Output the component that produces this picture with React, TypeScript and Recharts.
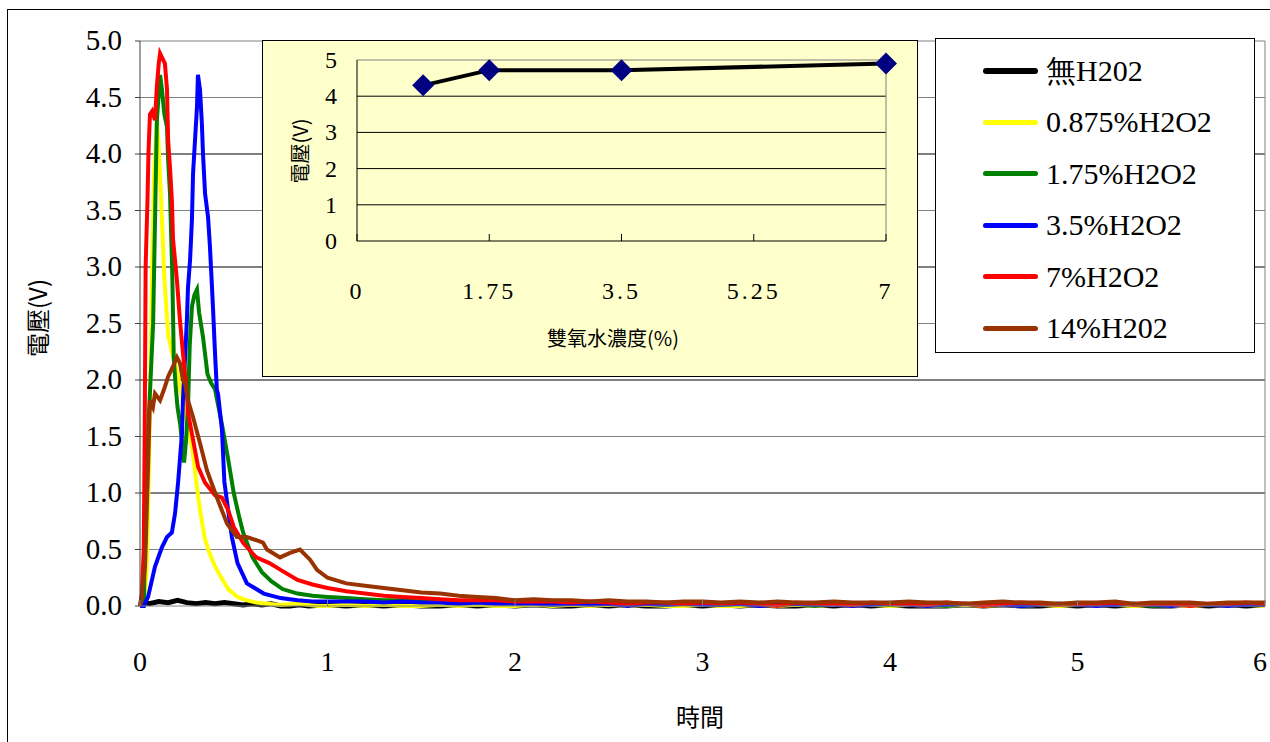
import React from "react";
import { LineChart, Line, XAxis, YAxis, ReferenceLine } from "recharts";

// time axis (s) and voltage (V)
const X_TICKS = [0, 1, 2, 3, 4, 5, 6];
const Y_TICKS = [0, 0.5, 1, 1.5, 2, 2.5, 3, 3.5, 4, 4.5, 5];
const HALF_GRID = [0.5, 1.5, 2.5, 3.5, 4.5, 5];
const FULL_GRID = [1, 2, 3, 4];

const TAIL_T = [
  1.0, 1.1, 1.2, 1.3, 1.4, 1.5, 1.6, 1.7, 1.8, 1.9,
  2.0, 2.1, 2.2, 2.3, 2.4, 2.5, 2.6, 2.7, 2.8, 2.9,
  3.0, 3.1, 3.2, 3.3, 3.4, 3.5, 3.6, 3.7, 3.8, 3.9,
  4.0, 4.1, 4.2, 4.3, 4.4, 4.5, 4.6, 4.7, 4.8, 4.9,
  5.0, 5.1, 5.2, 5.3, 5.4, 5.5, 5.6, 5.7, 5.8, 5.9, 6.0,
];

const NONE_T = [0, 0.02, 0.05, 0.1, 0.15, 0.2, 0.25, 0.3, 0.35, 0.4, 0.45, 0.5, 0.55, 0.6, 0.65, 0.7, 0.75, 0.8, 0.85, 0.9];
const NONE_V = [0.01, 0.03, 0.02, 0.04, 0.03, 0.05, 0.03, 0.02, 0.03, 0.02, 0.03, 0.02, 0.01, 0.02, 0.01, 0.02, 0.0, 0.0, 0.01, 0.0];
const NONE_TAIL = [
  0.01, 0.0, 0.01, 0.0, 0.01, 0.0, 0.0, 0.01, 0.0, 0.01,
  0.0, 0.01, 0.0, 0.0, 0.01, 0.0, 0.01, 0.0, 0.0, 0.01,
  0.0, 0.01, 0.0, 0.01, 0.0, 0.0, 0.01, 0.0, 0.01, 0.0,
  0.01, 0.0, 0.0, 0.0, 0.01, 0.0, 0.01, 0.0, 0.0, 0.01,
  0.0, 0.01, 0.0, 0.01, 0.0, 0.0, 0.01, 0.0, 0.01, 0.0, 0.01,
];

const P0875_T = [0, 0.02, 0.035, 0.045, 0.055, 0.065, 0.075, 0.09, 0.1, 0.115, 0.13, 0.15, 0.17, 0.2, 0.23, 0.26, 0.28, 0.3, 0.32, 0.345, 0.37, 0.4, 0.43, 0.47, 0.52, 0.57, 0.62, 0.68, 0.75, 0.85, 0.95];
const P0875_V = [0, 0.02, 0.3, 1.0, 2.0, 3.0, 3.8, 4.3, 4.05, 3.5, 2.9, 2.4, 2.25, 2.05, 1.8, 1.55, 1.38, 1.1, 0.85, 0.6, 0.47, 0.35, 0.26, 0.15, 0.08, 0.05, 0.03, 0.02, 0.01, 0.02, 0.0];
const P0875_TAIL = [
  0.0, 0.01, 0.0, 0.01, 0.0, 0.0, 0.01, 0.0, 0.01, 0.0,
  0.0, 0.01, 0.0, 0.01, 0.0, 0.01, 0.0, 0.01, 0.0, 0.0,
  0.01, 0.0, 0.0, 0.01, 0.0, 0.01, 0.0, 0.01, 0.0, 0.01,
  0.0, 0.01, 0.0, 0.0, 0.01, 0.0, 0.01, 0.0, 0.01, 0.0,
  0.01, 0.0, 0.01, 0.0, 0.01, 0.0, 0.0, 0.01, 0.0, 0.01, 0.0,
];

const P175_T = [0, 0.02, 0.03, 0.045, 0.07, 0.08, 0.09, 0.107, 0.117, 0.13, 0.144, 0.15, 0.16, 0.165, 0.172, 0.177, 0.18, 0.19, 0.2, 0.215, 0.235, 0.245, 0.256, 0.265, 0.277, 0.29, 0.304, 0.315, 0.336, 0.36, 0.38, 0.4, 0.42, 0.44, 0.47, 0.5, 0.53, 0.55, 0.6, 0.65, 0.7, 0.76, 0.84, 0.92];
const P175_V = [0, 0.0, 0.8, 1.6, 2.5, 3.4, 4.3, 4.7, 4.57, 4.35, 4.24, 3.95, 3.65, 3.35, 2.95, 2.5, 2.2, 1.95, 1.76, 1.6, 1.27, 1.45, 1.76, 2.3, 2.65, 2.75, 2.8, 2.6, 2.38, 2.05, 1.97, 1.92, 1.75, 1.58, 1.3, 1.0, 0.78, 0.65, 0.43, 0.3, 0.22, 0.15, 0.11, 0.09];
const P175_TAIL = [
  0.08, 0.07, 0.06, 0.05, 0.05, 0.04, 0.04, 0.04, 0.03, 0.04,
  0.03, 0.03, 0.02, 0.03, 0.02, 0.03, 0.02, 0.02, 0.01, 0.02,
  0.02, 0.01, 0.02, 0.02, 0.01, 0.02, 0.0, 0.02, 0.01, 0.02,
  0.01, 0.02, 0.01, 0.0, 0.02, 0.01, 0.02, 0.0, 0.01, 0.02,
  0.01, 0.02, 0.01, 0.02, 0.0, 0.01, 0.02, 0.01, 0.02, 0.01, 0.01,
];

const P35_T = [0, 0.02, 0.043, 0.08, 0.117, 0.144, 0.17, 0.187, 0.203, 0.224, 0.229, 0.25, 0.256, 0.267, 0.277, 0.283, 0.304, 0.309, 0.32, 0.33, 0.336, 0.347, 0.363, 0.373, 0.384, 0.389, 0.4, 0.41, 0.416, 0.437, 0.45, 0.47, 0.49, 0.52, 0.57, 0.66, 0.75, 0.84, 0.92];
const P35_V = [0, 0.0, 0.08, 0.35, 0.52, 0.61, 0.65, 0.82, 1.09, 1.53, 1.82, 2.53, 2.82, 3.06, 3.42, 3.83, 4.42, 4.7, 4.57, 4.27, 4.0, 3.65, 3.44, 3.18, 2.82, 2.65, 2.24, 1.91, 1.88, 1.56, 1.1, 0.85, 0.61, 0.38, 0.2, 0.11, 0.07, 0.05, 0.04];
const P35_TAIL = [
  0.04, 0.04, 0.04, 0.03, 0.04, 0.03, 0.03, 0.02, 0.03, 0.02,
  0.02, 0.02, 0.01, 0.02, 0.01, 0.02, 0.0, 0.02, 0.01, 0.02,
  0.01, 0.01, 0.02, 0.0, 0.01, 0.02, 0.01, 0.01, 0.0, 0.01,
  0.02, 0.01, 0.0, 0.01, 0.02, 0.01, 0.01, 0.0, 0.01, 0.02,
  0.01, 0.0, 0.01, 0.02, 0.01, 0.0, 0.01, 0.01, 0.0, 0.01, 0.01,
];

const P7_T = [0, 0.01, 0.02, 0.025, 0.03, 0.04, 0.045, 0.053, 0.065, 0.08, 0.09, 0.1, 0.107, 0.133, 0.144, 0.15, 0.16, 0.17, 0.176, 0.197, 0.213, 0.229, 0.25, 0.256, 0.283, 0.31, 0.347, 0.4, 0.437, 0.47, 0.5, 0.55, 0.62, 0.69, 0.75, 0.84, 0.92];
const P7_V = [0, 0.1, 0.5, 1.5, 3.0, 3.6, 4.0, 4.35, 4.38, 4.3, 4.6, 4.8, 4.89, 4.8, 4.57, 4.12, 3.88, 3.59, 3.25, 2.88, 2.53, 2.24, 1.88, 1.71, 1.47, 1.23, 1.09, 0.98, 0.96, 0.85, 0.7, 0.56, 0.43, 0.38, 0.32, 0.23, 0.19];
const P7_TAIL = [
  0.16, 0.13, 0.11, 0.09, 0.08, 0.07, 0.06, 0.05, 0.05, 0.05,
  0.04, 0.04, 0.04, 0.03, 0.04, 0.03, 0.02, 0.03, 0.03, 0.02,
  0.03, 0.02, 0.03, 0.02, 0.0, 0.03, 0.02, 0.02, 0.01, 0.03,
  0.02, 0.02, 0.01, 0.03, 0.02, 0.0, 0.02, 0.03, 0.02, 0.01,
  0.02, 0.02, 0.03, 0.01, 0.02, 0.02, 0.0, 0.02, 0.02, 0.03, 0.02,
];

const P14_T = [0, 0.01, 0.027, 0.043, 0.053, 0.069, 0.08, 0.107, 0.133, 0.15, 0.176, 0.197, 0.213, 0.229, 0.24, 0.256, 0.283, 0.32, 0.357, 0.41, 0.464, 0.517, 0.57, 0.624, 0.656, 0.677, 0.747, 0.8, 0.853, 0.907, 0.944];
const P14_V = [0, 0.1, 0.35, 1.23, 1.82, 1.76, 1.88, 1.82, 1.94, 2.03, 2.12, 2.2, 2.15, 2.0, 1.97, 1.82, 1.67, 1.44, 1.2, 0.96, 0.73, 0.61, 0.61, 0.58, 0.56, 0.5, 0.43, 0.47, 0.5, 0.41, 0.32];
const P14_TAIL = [
  0.25, 0.2, 0.18, 0.16, 0.14, 0.12, 0.11, 0.09, 0.08, 0.07,
  0.05, 0.06, 0.05, 0.05, 0.04, 0.05, 0.04, 0.04, 0.03, 0.04,
  0.04, 0.03, 0.04, 0.03, 0.04, 0.03, 0.03, 0.04, 0.03, 0.03,
  0.03, 0.04, 0.03, 0.03, 0.02, 0.03, 0.04, 0.03, 0.03, 0.02,
  0.03, 0.03, 0.04, 0.02, 0.03, 0.03, 0.03, 0.02, 0.03, 0.03, 0.03,
];

// inset: peak voltage vs H2O2 concentration
const CONC = [0.875, 1.75, 3.5, 7];
const PEAK_V = [4.3, 4.72, 4.72, 4.9];
const INSET_X_TICKS = [0, 1.75, 3.5, 5.25, 7];
const INSET_Y_TICKS = [0, 1, 2, 3, 4, 5];

const build = (t: number[], v: number[], tail: number[]) =>
  t.map((x, i) => ({ t: x, v: v[i] })).concat(TAIL_T.map((x, i) => ({ t: x, v: tail[i] })));

const SERIES = [
  { name: "無H202", color: "#000000", width: 5, data: build(NONE_T, NONE_V, NONE_TAIL) },
  { name: "0.875%H2O2", color: "#FFFF00", width: 4, data: build(P0875_T, P0875_V, P0875_TAIL) },
  { name: "1.75%H2O2", color: "#008000", width: 4, data: build(P175_T, P175_V, P175_TAIL) },
  { name: "3.5%H2O2", color: "#0000FF", width: 4, data: build(P35_T, P35_V, P35_TAIL) },
  { name: "7%H2O2", color: "#FF0000", width: 4, data: build(P7_T, P7_V, P7_TAIL) },
  { name: "14%H202", color: "#993300", width: 4, data: build(P14_T, P14_V, P14_TAIL) },
];

const insetData = CONC.map((c, i) => ({ c, v: PEAK_V[i] }));

const SERIF = "Liberation Serif, serif";
const CJK = '"Noto Sans CJK TC", "Noto Sans CJK SC", sans-serif';

const MainXTick = (props: any) => {
  const { x, y, payload } = props;
  const last = payload.value === 6;
  return (
    <g>
      <line x1={x} y1={y} x2={x} y2={y - 6} stroke="#808080" />
      <text x={last ? x - 5 : x} y={y + 65} textAnchor="middle" fontFamily={SERIF} fontSize={28} fill="#000">
        {payload.value}
      </text>
    </g>
  );
};

const MainYTick = (props: any) => {
  const { x, y, payload } = props;
  return (
    <text x={x} y={y + 9} textAnchor="end" fontFamily={SERIF} fontSize={29} fill="#000">
      {Number(payload.value).toFixed(1)}
    </text>
  );
};

const InsetXTick = (props: any) => {
  const { x, y, payload } = props;
  return (
    <g>
      <line x1={x} y1={y} x2={x} y2={y - 7} stroke="#000" />
      <text x={x} y={y + 58} textAnchor="middle" fontFamily={SERIF} fontSize={24} letterSpacing={3} fill="#000">
        {payload.value}
      </text>
    </g>
  );
};

const InsetYTick = (props: any) => {
  const { x, y, payload } = props;
  return (
    <text x={x} y={y + 8} textAnchor="end" fontFamily={SERIF} fontSize={24} fill="#000">
      {payload.value}
    </text>
  );
};

const Diamond = (props: any) => {
  const { cx, cy } = props;
  if (cx == null || cy == null) return null;
  const r = 11;
  return <polygon points={`${cx},${cy - r} ${cx + r},${cy} ${cx},${cy + r} ${cx - r},${cy}`} fill="#000080" />;
};

export default function App() {
  return (
    <div style={{ position: "absolute", left: 0, top: 0, width: 1270, height: 742, overflow: "hidden", background: "#fff" }}>
      <div style={{ position: "absolute", left: 7, top: 9, width: 1400, height: 900, border: "1px solid #000" }} />
      <div style={{ position: "absolute", left: 0, top: 0 }}>
        <LineChart width={1270} height={742} margin={{ top: 41, right: 5, bottom: 106, left: 0 }}>
          <XAxis
            type="number"
            dataKey="t"
            domain={[0, 6]}
            ticks={X_TICKS}
            interval={0}
            height={30}
            tick={<MainXTick />}
            tickLine={false}
            tickSize={0}
            tickMargin={0}
            axisLine={{ stroke: "#808080" }}
          />
          <YAxis
            type="number"
            domain={[0, 5]}
            ticks={Y_TICKS}
            interval={0}
            width={140}
            tickSize={5}
            tickMargin={13}
            tickLine={{ stroke: "#404040" }}
            axisLine={{ stroke: "#404040" }}
            tick={<MainYTick />}
          />
          {HALF_GRID.map((g) => (
            <ReferenceLine key={"h" + g} y={g} stroke="#808080" strokeWidth={1} />
          ))}
          {FULL_GRID.map((g) => (
            <ReferenceLine key={"f" + g} y={g} stroke="#000" strokeWidth={1} />
          ))}
          <ReferenceLine x={6} stroke="#808080" />
          {SERIES.map((s) => (
            <Line
              key={s.name}
              data={s.data}
              dataKey="v"
              name={s.name}
              type="linear"
              stroke={s.color}
              strokeWidth={s.width}
              dot={false}
              isAnimationActive={false}
            />
          ))}
        </LineChart>
      </div>

      <div style={{ position: "absolute", left: 36, top: 318, transform: "translate(-50%, -50%) rotate(-90deg)", fontFamily: CJK, fontSize: 24, whiteSpace: "nowrap" }}>
        電壓(V)
      </div>
      <div style={{ position: "absolute", left: 700, top: 715, transform: "translate(-50%, -50%)", fontFamily: CJK, fontSize: 24, whiteSpace: "nowrap" }}>
        時間
      </div>

      <div style={{ position: "absolute", left: 262, top: 40, width: 654, height: 335, background: "#FFFFCC", border: "1px solid #000" }}>
        <LineChart width={654} height={335} margin={{ top: 19, right: 31, bottom: 105, left: 0 }} data={insetData}>
          <XAxis
            type="number"
            dataKey="c"
            domain={[0, 7]}
            ticks={INSET_X_TICKS}
            interval={0}
            height={30}
            tick={<InsetXTick />}
            tickLine={false}
            tickSize={0}
            tickMargin={0}
            axisLine={{ stroke: "#000" }}
          />
          <YAxis
            type="number"
            domain={[0, 5]}
            ticks={INSET_Y_TICKS}
            interval={0}
            width={94}
            tickLine={false}
            tickSize={0}
            tickMargin={20}
            axisLine={{ stroke: "#000" }}
            tick={<InsetYTick />}
          />
          {[1, 2, 3, 4].map((g) => (
            <ReferenceLine key={g} y={g} stroke="#000" />
          ))}
          <ReferenceLine y={5} stroke="#808080" />
          <ReferenceLine x={7} stroke="#808080" />
          <Line dataKey="v" type="linear" stroke="#000" strokeWidth={4} dot={<Diamond />} isAnimationActive={false} />
        </LineChart>
        <div style={{ position: "absolute", left: 36, top: 110, transform: "translate(-50%, -50%) rotate(-90deg)", fontFamily: CJK, fontSize: 20, whiteSpace: "nowrap" }}>
          電壓(V)
        </div>
        <div style={{ position: "absolute", left: 350, top: 296, transform: "translate(-50%, -50%)", fontFamily: CJK, fontSize: 20, whiteSpace: "nowrap" }}>
          雙氧水濃度(%)
        </div>
      </div>

      <div style={{ position: "absolute", left: 935, top: 38, width: 318, height: 313, background: "#fff", border: "1px solid #000" }}>
        {SERIES.map((s, i) => (
          <div key={s.name} style={{ position: "absolute", left: 47, top: 32 + i * 51.4, height: 0 }}>
            <div style={{ position: "absolute", left: 0, top: -s.width / 2 - 0.5, width: 55, height: s.width + 1, background: s.color, borderRadius: 3 }} />
            <div style={{ position: "absolute", left: 63, top: 0, transform: "translateY(-50%)", fontFamily: SERIF, fontSize: 30, whiteSpace: "nowrap", color: "#000" }}>
              {s.name}
            </div>
          </div>
        ))}
      </div>
    </div>
  );
}
